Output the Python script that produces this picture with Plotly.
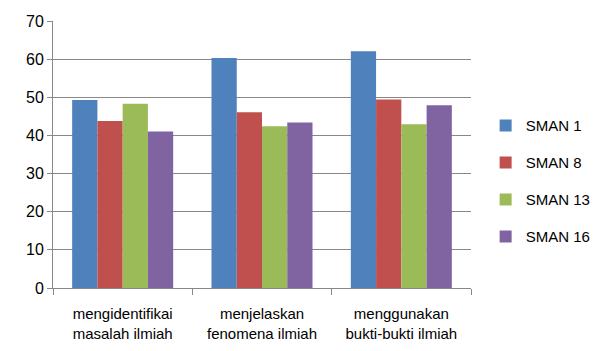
import plotly.graph_objects as go

categories = ["mengidentifikai<br>masalah ilmiah", "menjelaskan<br>fenomena ilmiah", "menggunakan<br>bukti-bukti ilmiah"]
sman1 = [49.3, 60.3, 62.1]
sman8 = [43.8, 46.1, 49.4]
sman13 = [48.3, 42.4, 42.9]
sman16 = [41.0, 43.4, 47.9]
series_names = ["SMAN 1", "SMAN 8", "SMAN 13", "SMAN 16"]
colors = ["#4F81BD", "#C0504D", "#9BBB59", "#8064A2"]
y_ticks = [0, 10, 20, 30, 40, 50, 60, 70]

fig = go.Figure()
for name, vals, c in zip(series_names, [sman1, sman8, sman13, sman16], colors):
    fig.add_trace(go.Bar(x=categories, y=vals, name=name, legendgroup=name,
                         marker=dict(color=c, line=dict(width=0))))

font = dict(family="Liberation Sans, Arial", size=15, color="#000000")
fig.update_layout(
    width=602, height=351,
    margin=dict(l=53, r=131, t=21, b=63, autoexpand=False),
    paper_bgcolor="white", plot_bgcolor="white",
    barmode="group", bargap=0.275, bargroupgap=0,
    font=font,
    showlegend=True,
    legend=dict(x=1.035, y=0.40, xanchor="left", yanchor="middle", font=dict(size=15),
                itemwidth=30, tracegroupgap=14.5, traceorder="grouped", bgcolor="rgba(0,0,0,0)"),
    xaxis=dict(type="category", tickson="boundaries", ticks="outside", ticklen=6, tickcolor="#888888",
               showline=True, linecolor="#888888", linewidth=1, showgrid=False,
               tickfont=dict(size=15), ticklabelstandoff=12),
    yaxis=dict(range=[0, 70], tickvals=y_ticks, ticks="outside", ticklen=5, tickcolor="#888888",
               showline=True, linecolor="#888888", linewidth=1, showgrid=True, gridcolor="#888888",
               gridwidth=1, zeroline=False, tickfont=dict(size=16)),
)
fig.write_html("out.html")
